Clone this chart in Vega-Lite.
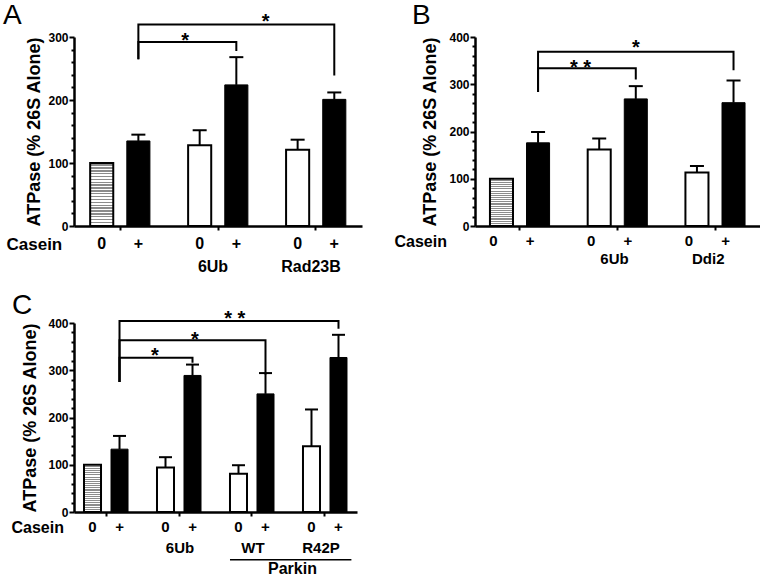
{
  "$schema": "https://vega.github.io/schema/vega-lite/v6.json",
  "padding": {"left": 3, "top": 2, "right": 0, "bottom": 0},
  "config": {
    "font": "Liberation Sans",
    "view": {"stroke": null},
    "axis": {"grid": false, "domainColor": "black", "tickColor": "black", "labelColor": "black", "titleColor": "black", "domainWidth": 2.5, "tickWidth": 2, "labelFontWeight": "bold", "titleFontWeight": "bold", "labelOverlap": false, "labelFlush": false, "labelFont": "Liberation Sans", "titleFont": "Liberation Sans"},
    "text": {"font": "Liberation Sans", "fontWeight": "bold", "color": "black"}
  },
  "datasets": {
    "A_bars": [
      {"group": "ctrl", "casein": "0", "kind": "hatched", "value": 100, "upper": null},
      {"group": "ctrl", "casein": "+", "kind": "black", "value": 135, "upper": 145},
      {"group": "6Ub", "casein": "0", "kind": "white", "value": 128, "upper": 152},
      {"group": "6Ub", "casein": "+", "kind": "black", "value": 224, "upper": 268},
      {"group": "Rad23B", "casein": "0", "kind": "white", "value": 121, "upper": 137},
      {"group": "Rad23B", "casein": "+", "kind": "black", "value": 201, "upper": 212}
    ],
    "A_br": [
      {"bracket": "a1", "group": "ctrl", "casein": "+", "y": 264.6, "seq": 1},
      {"bracket": "a1", "group": "ctrl", "casein": "+", "y": 292, "seq": 2},
      {"bracket": "a1", "group": "6Ub", "casein": "+", "y": 292, "seq": 3},
      {"bracket": "a1", "group": "6Ub", "casein": "+", "y": 277.8, "seq": 4},
      {"bracket": "a2", "group": "ctrl", "casein": "+", "y": 264.6, "seq": 1},
      {"bracket": "a2", "group": "ctrl", "casein": "+", "y": 320, "seq": 2},
      {"bracket": "a2", "group": "Rad23B", "casein": "+", "y": 320, "seq": 3},
      {"bracket": "a2", "group": "Rad23B", "casein": "+", "y": 239, "seq": 4}
    ],
    "B_bars": [
      {"group": "ctrl", "casein": "0", "kind": "hatched", "value": 100, "upper": null},
      {"group": "ctrl", "casein": "+", "kind": "black", "value": 176, "upper": 199},
      {"group": "6Ub", "casein": "0", "kind": "white", "value": 162, "upper": 185},
      {"group": "6Ub", "casein": "+", "kind": "black", "value": 269, "upper": 296},
      {"group": "Ddi2", "casein": "0", "kind": "white", "value": 113, "upper": 127},
      {"group": "Ddi2", "casein": "+", "kind": "black", "value": 261, "upper": 308}
    ],
    "B_br": [
      {"bracket": "b1", "group": "ctrl", "casein": "+", "y": 283.6, "seq": 1},
      {"bracket": "b1", "group": "ctrl", "casein": "+", "y": 333.7, "seq": 2},
      {"bracket": "b1", "group": "6Ub", "casein": "+", "y": 333.7, "seq": 3},
      {"bracket": "b1", "group": "6Ub", "casein": "+", "y": 310, "seq": 4},
      {"bracket": "b2", "group": "ctrl", "casein": "+", "y": 283.6, "seq": 1},
      {"bracket": "b2", "group": "ctrl", "casein": "+", "y": 369, "seq": 2},
      {"bracket": "b2", "group": "Ddi2", "casein": "+", "y": 369, "seq": 3},
      {"bracket": "b2", "group": "Ddi2", "casein": "+", "y": 329.5, "seq": 4}
    ],
    "C_bars": [
      {"group": "ctrl", "casein": "0", "kind": "hatched", "value": 100, "upper": null},
      {"group": "ctrl", "casein": "+", "kind": "black", "value": 133, "upper": 161},
      {"group": "6Ub", "casein": "0", "kind": "white", "value": 94, "upper": 116},
      {"group": "6Ub", "casein": "+", "kind": "black", "value": 289, "upper": 312},
      {"group": "WT", "casein": "0", "kind": "white", "value": 81, "upper": 99},
      {"group": "WT", "casein": "+", "kind": "black", "value": 250, "upper": 294},
      {"group": "R42P", "casein": "0", "kind": "white", "value": 139, "upper": 217},
      {"group": "R42P", "casein": "+", "kind": "black", "value": 327, "upper": 375}
    ],
    "C_br": [
      {"bracket": "c1", "group": "ctrl", "casein": "+", "y": 275, "seq": 1},
      {"bracket": "c1", "group": "ctrl", "casein": "+", "y": 326.6, "seq": 2},
      {"bracket": "c1", "group": "6Ub", "casein": "+", "y": 326.6, "seq": 3},
      {"bracket": "c1", "group": "6Ub", "casein": "+", "y": 316, "seq": 4},
      {"bracket": "c2", "group": "ctrl", "casein": "+", "y": 275, "seq": 1},
      {"bracket": "c2", "group": "ctrl", "casein": "+", "y": 363.3, "seq": 2},
      {"bracket": "c2", "group": "WT", "casein": "+", "y": 363.3, "seq": 3},
      {"bracket": "c2", "group": "WT", "casein": "+", "y": 291, "seq": 4},
      {"bracket": "c3", "group": "ctrl", "casein": "+", "y": 275, "seq": 1},
      {"bracket": "c3", "group": "ctrl", "casein": "+", "y": 404, "seq": 2},
      {"bracket": "c3", "group": "R42P", "casein": "+", "y": 404, "seq": 3},
      {"bracket": "c3", "group": "R42P", "casein": "+", "y": 388, "seq": 4}
    ]
  },
  "columns": 1,
  "align": "none",
  "spacing": 17,
  "resolve": {"scale": {"x": "independent", "xOffset": "independent", "y": "independent"}},
  "concat": [
    {
      "spacing": 32,
      "resolve": {"scale": {"x": "independent", "xOffset": "independent", "y": "independent"}},
      "hconcat": [
        {
          "width": 288, "height": 189,
          "resolve": {"axis": {"y": "independent"}},
          "layer": [
            {"layer": [
            {"data": {"name": "A_bars"}, "transform": [{"filter": "datum.kind === 'black'"}],
             "mark": {"type": "bar", "fill": "black", "stroke": "black", "strokeWidth": 1},
             "encoding": {
               "x": {"field": "group", "type": "nominal", "scale": {"domain": ["ctrl", "6Ub", "Rad23B"], "paddingInner": 0.39, "paddingOuter": 0.165},
                 "axis": {"title": "Casein", "titleX": -68, "titleY": 18, "titleAlign": "left", "titleAnchor": "start", "titleBaseline": "middle", "titleFontSize": 17, "labelExpr": "datum.value === 'ctrl' ? '' : datum.label", "labelAngle": 0, "labelFontSize": 16, "labelPadding": 36, "labelBaseline": "middle", "labelOffset": -5, "tickSize": 4, "labelOverlap": false}},
               "xOffset": {"field": "casein", "type": "nominal", "scale": {"domain": ["0", "+"], "paddingInner": 0.37, "paddingOuter": 0}},
               "y": {"field": "value", "type": "quantitative", "scale": {"domain": [0, 300], "nice": false},
                 "axis": {"orient": "left", "title": "ATPase (% 26S Alone)", "titleFontSize": 18, "titlePadding": 4, "values": [0, 100, 200, 300], "labelFontSize": 12, "labelPadding": 1, "tickSize": 5}}
             }},
            {"data": {"name": "A_bars"}, "transform": [{"filter": "datum.kind === 'white'"}],
             "mark": {"type": "bar", "fill": "white", "stroke": "black", "strokeWidth": 2},
             "encoding": {"x": {"field": "group", "type": "nominal"}, "xOffset": {"field": "casein", "type": "nominal"}, "y": {"field": "value", "type": "quantitative"}}},
            {"data": {"name": "A_bars"}, "transform": [{"filter": "datum.kind === 'hatched'"}],
             "mark": {"type": "bar", "stroke": "black", "strokeWidth": 2, "fill": {"gradient": "linear", "x1": 0, "y1": 0, "x2": 0, "y2": 1, "stops": [
        {"offset": 0, "color": "white"}, {"offset": 0.0227, "color": "white"}, {"offset": 0.0227, "color": "#8c8c8c"}, {"offset": 0.0455, "color": "#8c8c8c"},
        {"offset": 0.0455, "color": "white"}, {"offset": 0.0682, "color": "white"}, {"offset": 0.0682, "color": "#8c8c8c"}, {"offset": 0.0909, "color": "#8c8c8c"},
        {"offset": 0.0909, "color": "white"}, {"offset": 0.1136, "color": "white"}, {"offset": 0.1136, "color": "#8c8c8c"}, {"offset": 0.1364, "color": "#8c8c8c"},
        {"offset": 0.1364, "color": "white"}, {"offset": 0.1591, "color": "white"}, {"offset": 0.1591, "color": "#8c8c8c"}, {"offset": 0.1818, "color": "#8c8c8c"},
        {"offset": 0.1818, "color": "white"}, {"offset": 0.2045, "color": "white"}, {"offset": 0.2045, "color": "#8c8c8c"}, {"offset": 0.2273, "color": "#8c8c8c"},
        {"offset": 0.2273, "color": "white"}, {"offset": 0.25, "color": "white"}, {"offset": 0.25, "color": "#8c8c8c"}, {"offset": 0.2727, "color": "#8c8c8c"},
        {"offset": 0.2727, "color": "white"}, {"offset": 0.2955, "color": "white"}, {"offset": 0.2955, "color": "#8c8c8c"}, {"offset": 0.3182, "color": "#8c8c8c"},
        {"offset": 0.3182, "color": "white"}, {"offset": 0.3409, "color": "white"}, {"offset": 0.3409, "color": "#8c8c8c"}, {"offset": 0.3636, "color": "#8c8c8c"},
        {"offset": 0.3636, "color": "white"}, {"offset": 0.3864, "color": "white"}, {"offset": 0.3864, "color": "#8c8c8c"}, {"offset": 0.4091, "color": "#8c8c8c"},
        {"offset": 0.4091, "color": "white"}, {"offset": 0.4318, "color": "white"}, {"offset": 0.4318, "color": "#8c8c8c"}, {"offset": 0.4545, "color": "#8c8c8c"},
        {"offset": 0.4545, "color": "white"}, {"offset": 0.4773, "color": "white"}, {"offset": 0.4773, "color": "#8c8c8c"}, {"offset": 0.5, "color": "#8c8c8c"},
        {"offset": 0.5, "color": "white"}, {"offset": 0.5227, "color": "white"}, {"offset": 0.5227, "color": "#8c8c8c"}, {"offset": 0.5455, "color": "#8c8c8c"},
        {"offset": 0.5455, "color": "white"}, {"offset": 0.5682, "color": "white"}, {"offset": 0.5682, "color": "#8c8c8c"}, {"offset": 0.5909, "color": "#8c8c8c"},
        {"offset": 0.5909, "color": "white"}, {"offset": 0.6136, "color": "white"}, {"offset": 0.6136, "color": "#8c8c8c"}, {"offset": 0.6364, "color": "#8c8c8c"},
        {"offset": 0.6364, "color": "white"}, {"offset": 0.6591, "color": "white"}, {"offset": 0.6591, "color": "#8c8c8c"}, {"offset": 0.6818, "color": "#8c8c8c"},
        {"offset": 0.6818, "color": "white"}, {"offset": 0.7045, "color": "white"}, {"offset": 0.7045, "color": "#8c8c8c"}, {"offset": 0.7273, "color": "#8c8c8c"},
        {"offset": 0.7273, "color": "white"}, {"offset": 0.75, "color": "white"}, {"offset": 0.75, "color": "#8c8c8c"}, {"offset": 0.7727, "color": "#8c8c8c"},
        {"offset": 0.7727, "color": "white"}, {"offset": 0.7955, "color": "white"}, {"offset": 0.7955, "color": "#8c8c8c"}, {"offset": 0.8182, "color": "#8c8c8c"},
        {"offset": 0.8182, "color": "white"}, {"offset": 0.8409, "color": "white"}, {"offset": 0.8409, "color": "#8c8c8c"}, {"offset": 0.8636, "color": "#8c8c8c"},
        {"offset": 0.8636, "color": "white"}, {"offset": 0.8864, "color": "white"}, {"offset": 0.8864, "color": "#8c8c8c"}, {"offset": 0.9091, "color": "#8c8c8c"},
        {"offset": 0.9091, "color": "white"}, {"offset": 0.9318, "color": "white"}, {"offset": 0.9318, "color": "#8c8c8c"}, {"offset": 0.9545, "color": "#8c8c8c"},
        {"offset": 0.9545, "color": "white"}, {"offset": 0.9773, "color": "white"}, {"offset": 0.9773, "color": "#8c8c8c"}, {"offset": 1, "color": "#8c8c8c"}
      ]}},
             "encoding": {"x": {"field": "group", "type": "nominal"}, "xOffset": {"field": "casein", "type": "nominal"}, "y": {"field": "value", "type": "quantitative"}}},
            {"data": {"name": "A_bars"}, "transform": [{"filter": "isValid(datum.upper)"}],
             "mark": {"type": "rule", "color": "black", "strokeWidth": 2},
             "encoding": {"x": {"field": "group", "type": "nominal"}, "xOffset": {"field": "casein", "type": "nominal"}, "y": {"field": "value", "type": "quantitative"}, "y2": {"field": "upper"}}},
            {"data": {"name": "A_bars"}, "transform": [{"filter": "isValid(datum.upper)"}],
             "mark": {"type": "tick", "orient": "horizontal", "color": "black", "size": 14, "thickness": 2, "opacity": 1},
             "encoding": {"x": {"field": "group", "type": "nominal"}, "xOffset": {"field": "casein", "type": "nominal"}, "y": {"field": "upper", "type": "quantitative"}}},
            {"data": {"name": "A_br"},
             "mark": {"type": "line", "color": "black", "strokeWidth": 2, "strokeJoin": "miter"},
             "encoding": {"x": {"field": "group", "type": "nominal"}, "xOffset": {"field": "casein", "type": "nominal"}, "y": {"field": "y", "type": "quantitative"}, "order": {"field": "seq", "type": "quantitative"}, "detail": {"field": "bracket", "type": "nominal"}}},
            {"data": {"values": [{"group": "6Ub", "label": "*", "y": 284.4}]},
             "mark": {"type": "text", "fontSize": 20, "baseline": "alphabetic"},
             "encoding": {"x": {"field": "group", "type": "nominal", "bandPosition": -0.05}, "y": {"field": "y", "type": "quantitative"}, "text": {"field": "label"}}},
            {"data": {"values": [{"group": "Rad23B", "label": "*", "y": 313.5}]},
             "mark": {"type": "text", "fontSize": 20, "baseline": "alphabetic"},
             "encoding": {"x": {"field": "group", "type": "nominal", "bandPosition": -0.34}, "y": {"field": "y", "type": "quantitative"}, "text": {"field": "label"}}},
            {"data": {"values": [{"group": "ctrl", "label": "A", "y": 320.2}]},
             "mark": {"type": "text", "fontSize": 28, "fontWeight": "normal", "align": "left", "baseline": "alphabetic"},
             "encoding": {"x": {"field": "group", "type": "nominal", "bandPosition": -1.458}, "y": {"field": "y", "type": "quantitative"}, "text": {"field": "label"}}},
            {"data": {"name": "A_bars"},
             "mark": {"type": "text", "fontSize": 16, "baseline": "middle"},
             "encoding": {"x": {"field": "group", "type": "nominal"}, "xOffset": {"field": "casein", "type": "nominal"}, "y": {"datum": -29}, "text": {"field": "casein"}}}
            ]},
            {"data": {"name": "A_bars"}, "mark": {"type": "rule", "opacity": 0},
             "encoding": {"y": {"field": "value", "type": "quantitative", "axis": {"orient": "left", "values": [20,40,60,80,120,140,160,180,220,240,260,280], "labels": false, "domain": false, "tickSize": 3, "title": null}}}}
          ]
        },
        {
          "width": 285, "height": 189,
          "resolve": {"axis": {"y": "independent"}},
          "layer": [
            {"layer": [
            {"data": {"name": "B_bars"}, "transform": [{"filter": "datum.kind === 'black'"}],
             "mark": {"type": "bar", "fill": "black", "stroke": "black", "strokeWidth": 1},
             "encoding": {
               "x": {"field": "group", "type": "nominal", "scale": {"domain": ["ctrl", "6Ub", "Ddi2"], "paddingInner": 0.39, "paddingOuter": 0.153},
                 "axis": {"title": "Casein", "titleX": -81, "titleY": 15, "titleAlign": "left", "titleAnchor": "start", "titleBaseline": "middle", "titleFontSize": 16, "labelExpr": "datum.value === 'ctrl' ? '' : datum.label", "labelAngle": 0, "labelFontSize": 15, "labelPadding": 28, "labelBaseline": "middle", "labelOffset": {"condition": {"test": "datum.value === 'Ddi2'", "value": -7}, "value": -3}, "tickSize": 4, "labelOverlap": false}},
               "xOffset": {"field": "casein", "type": "nominal", "scale": {"domain": ["0", "+"], "paddingInner": 0.37, "paddingOuter": 0}},
               "y": {"field": "value", "type": "quantitative", "scale": {"domain": [0, 400], "nice": false},
                 "axis": {"orient": "left", "title": "ATPase (% 26S Alone)", "titleFontSize": 18, "titlePadding": 9, "values": [0, 100, 200, 300, 400], "labelFontSize": 12, "labelPadding": 1, "tickSize": 5}}
             }},
            {"data": {"name": "B_bars"}, "transform": [{"filter": "datum.kind === 'white'"}],
             "mark": {"type": "bar", "fill": "white", "stroke": "black", "strokeWidth": 2},
             "encoding": {"x": {"field": "group", "type": "nominal"}, "xOffset": {"field": "casein", "type": "nominal"}, "y": {"field": "value", "type": "quantitative"}}},
            {"data": {"name": "B_bars"}, "transform": [{"filter": "datum.kind === 'hatched'"}],
             "mark": {"type": "bar", "stroke": "black", "strokeWidth": 2, "fill": {"gradient": "linear", "x1": 0, "y1": 0, "x2": 0, "y2": 1, "stops": [
        {"offset": 0, "color": "white"}, {"offset": 0.0227, "color": "white"}, {"offset": 0.0227, "color": "#8c8c8c"}, {"offset": 0.0455, "color": "#8c8c8c"},
        {"offset": 0.0455, "color": "white"}, {"offset": 0.0682, "color": "white"}, {"offset": 0.0682, "color": "#8c8c8c"}, {"offset": 0.0909, "color": "#8c8c8c"},
        {"offset": 0.0909, "color": "white"}, {"offset": 0.1136, "color": "white"}, {"offset": 0.1136, "color": "#8c8c8c"}, {"offset": 0.1364, "color": "#8c8c8c"},
        {"offset": 0.1364, "color": "white"}, {"offset": 0.1591, "color": "white"}, {"offset": 0.1591, "color": "#8c8c8c"}, {"offset": 0.1818, "color": "#8c8c8c"},
        {"offset": 0.1818, "color": "white"}, {"offset": 0.2045, "color": "white"}, {"offset": 0.2045, "color": "#8c8c8c"}, {"offset": 0.2273, "color": "#8c8c8c"},
        {"offset": 0.2273, "color": "white"}, {"offset": 0.25, "color": "white"}, {"offset": 0.25, "color": "#8c8c8c"}, {"offset": 0.2727, "color": "#8c8c8c"},
        {"offset": 0.2727, "color": "white"}, {"offset": 0.2955, "color": "white"}, {"offset": 0.2955, "color": "#8c8c8c"}, {"offset": 0.3182, "color": "#8c8c8c"},
        {"offset": 0.3182, "color": "white"}, {"offset": 0.3409, "color": "white"}, {"offset": 0.3409, "color": "#8c8c8c"}, {"offset": 0.3636, "color": "#8c8c8c"},
        {"offset": 0.3636, "color": "white"}, {"offset": 0.3864, "color": "white"}, {"offset": 0.3864, "color": "#8c8c8c"}, {"offset": 0.4091, "color": "#8c8c8c"},
        {"offset": 0.4091, "color": "white"}, {"offset": 0.4318, "color": "white"}, {"offset": 0.4318, "color": "#8c8c8c"}, {"offset": 0.4545, "color": "#8c8c8c"},
        {"offset": 0.4545, "color": "white"}, {"offset": 0.4773, "color": "white"}, {"offset": 0.4773, "color": "#8c8c8c"}, {"offset": 0.5, "color": "#8c8c8c"},
        {"offset": 0.5, "color": "white"}, {"offset": 0.5227, "color": "white"}, {"offset": 0.5227, "color": "#8c8c8c"}, {"offset": 0.5455, "color": "#8c8c8c"},
        {"offset": 0.5455, "color": "white"}, {"offset": 0.5682, "color": "white"}, {"offset": 0.5682, "color": "#8c8c8c"}, {"offset": 0.5909, "color": "#8c8c8c"},
        {"offset": 0.5909, "color": "white"}, {"offset": 0.6136, "color": "white"}, {"offset": 0.6136, "color": "#8c8c8c"}, {"offset": 0.6364, "color": "#8c8c8c"},
        {"offset": 0.6364, "color": "white"}, {"offset": 0.6591, "color": "white"}, {"offset": 0.6591, "color": "#8c8c8c"}, {"offset": 0.6818, "color": "#8c8c8c"},
        {"offset": 0.6818, "color": "white"}, {"offset": 0.7045, "color": "white"}, {"offset": 0.7045, "color": "#8c8c8c"}, {"offset": 0.7273, "color": "#8c8c8c"},
        {"offset": 0.7273, "color": "white"}, {"offset": 0.75, "color": "white"}, {"offset": 0.75, "color": "#8c8c8c"}, {"offset": 0.7727, "color": "#8c8c8c"},
        {"offset": 0.7727, "color": "white"}, {"offset": 0.7955, "color": "white"}, {"offset": 0.7955, "color": "#8c8c8c"}, {"offset": 0.8182, "color": "#8c8c8c"},
        {"offset": 0.8182, "color": "white"}, {"offset": 0.8409, "color": "white"}, {"offset": 0.8409, "color": "#8c8c8c"}, {"offset": 0.8636, "color": "#8c8c8c"},
        {"offset": 0.8636, "color": "white"}, {"offset": 0.8864, "color": "white"}, {"offset": 0.8864, "color": "#8c8c8c"}, {"offset": 0.9091, "color": "#8c8c8c"},
        {"offset": 0.9091, "color": "white"}, {"offset": 0.9318, "color": "white"}, {"offset": 0.9318, "color": "#8c8c8c"}, {"offset": 0.9545, "color": "#8c8c8c"},
        {"offset": 0.9545, "color": "white"}, {"offset": 0.9773, "color": "white"}, {"offset": 0.9773, "color": "#8c8c8c"}, {"offset": 1, "color": "#8c8c8c"}
      ]}},
             "encoding": {"x": {"field": "group", "type": "nominal"}, "xOffset": {"field": "casein", "type": "nominal"}, "y": {"field": "value", "type": "quantitative"}}},
            {"data": {"name": "B_bars"}, "transform": [{"filter": "isValid(datum.upper)"}],
             "mark": {"type": "rule", "color": "black", "strokeWidth": 2},
             "encoding": {"x": {"field": "group", "type": "nominal"}, "xOffset": {"field": "casein", "type": "nominal"}, "y": {"field": "value", "type": "quantitative"}, "y2": {"field": "upper"}}},
            {"data": {"name": "B_bars"}, "transform": [{"filter": "isValid(datum.upper)"}],
             "mark": {"type": "tick", "orient": "horizontal", "color": "black", "size": 14, "thickness": 2, "opacity": 1},
             "encoding": {"x": {"field": "group", "type": "nominal"}, "xOffset": {"field": "casein", "type": "nominal"}, "y": {"field": "upper", "type": "quantitative"}}},
            {"data": {"name": "B_br"},
             "mark": {"type": "line", "color": "black", "strokeWidth": 2, "strokeJoin": "miter"},
             "encoding": {"x": {"field": "group", "type": "nominal"}, "xOffset": {"field": "casein", "type": "nominal"}, "y": {"field": "y", "type": "quantitative"}, "order": {"field": "seq", "type": "quantitative"}, "detail": {"field": "bracket", "type": "nominal"}}},
            {"data": {"values": [{"group": "6Ub", "label": "* *", "y": 321}]},
             "mark": {"type": "text", "fontSize": 20, "baseline": "alphabetic"},
             "encoding": {"x": {"field": "group", "type": "nominal", "bandPosition": -0.12}, "y": {"field": "y", "type": "quantitative"}, "text": {"field": "label"}}},
            {"data": {"values": [{"group": "6Ub", "label": "*", "y": 363.4}]},
             "mark": {"type": "text", "fontSize": 20, "baseline": "alphabetic"},
             "encoding": {"x": {"field": "group", "type": "nominal", "bandPosition": 0.81}, "y": {"field": "y", "type": "quantitative"}, "text": {"field": "label"}}},
            {"data": {"values": [{"group": "ctrl", "label": "B", "y": 426.9}]},
             "mark": {"type": "text", "fontSize": 28, "fontWeight": "normal", "align": "left", "baseline": "alphabetic"},
             "encoding": {"x": {"field": "group", "type": "nominal", "bandPosition": -1.308}, "y": {"field": "y", "type": "quantitative"}, "text": {"field": "label"}}},
            {"data": {"name": "B_bars"},
             "mark": {"type": "text", "fontSize": 15, "baseline": "middle", "dx": -8},
             "encoding": {"x": {"field": "group", "type": "nominal"}, "xOffset": {"field": "casein", "type": "nominal"}, "y": {"datum": -31.7}, "text": {"field": "casein"}}}
            ]},
            {"data": {"name": "B_bars"}, "mark": {"type": "rule", "opacity": 0},
             "encoding": {"y": {"field": "value", "type": "quantitative", "axis": {"orient": "left", "values": [20,40,60,80,120,140,160,180,220,240,260,280,320,340,360,380], "labels": false, "domain": false, "tickSize": 3, "title": null}}}}
          ]
        }
      ]
    },
    {
      "width": 283, "height": 189,
      "resolve": {"axis": {"y": "independent"}},
      "layer": [
        {"layer": [
        {"data": {"name": "C_bars"}, "transform": [{"filter": "datum.kind === 'black'"}],
         "mark": {"type": "bar", "fill": "black", "stroke": "black", "strokeWidth": 1},
         "encoding": {
           "x": {"field": "group", "type": "nominal", "scale": {"domain": ["ctrl", "6Ub", "WT", "R42P"], "paddingInner": 0.397, "paddingOuter": 0.137},
             "axis": {"title": "Casein", "titleX": -63, "titleY": 15, "titleAlign": "left", "titleAnchor": "start", "titleBaseline": "middle", "titleFontSize": 16, "labelExpr": "datum.value === 'ctrl' ? '' : datum.label", "labelAngle": 0, "labelFontSize": 15, "labelPadding": 31, "labelBaseline": "middle", "labelOffset": {"condition": {"test": "datum.value === 'R42P'", "value": -4}, "value": 1}, "tickSize": 4, "labelOverlap": false}},
           "xOffset": {"field": "casein", "type": "nominal", "scale": {"domain": ["0", "+"], "paddingInner": 0.37, "paddingOuter": 0}},
           "y": {"field": "value", "type": "quantitative", "scale": {"domain": [0, 400], "nice": false},
             "axis": {"orient": "left", "title": "ATPase (% 26S Alone)", "titleFontSize": 18, "titlePadding": 8, "values": [0, 100, 200, 300, 400], "labelFontSize": 12, "labelPadding": 1, "tickSize": 5}}
         }},
        {"data": {"name": "C_bars"}, "transform": [{"filter": "datum.kind === 'white'"}],
         "mark": {"type": "bar", "fill": "white", "stroke": "black", "strokeWidth": 2},
         "encoding": {"x": {"field": "group", "type": "nominal"}, "xOffset": {"field": "casein", "type": "nominal"}, "y": {"field": "value", "type": "quantitative"}}},
        {"data": {"name": "C_bars"}, "transform": [{"filter": "datum.kind === 'hatched'"}],
         "mark": {"type": "bar", "stroke": "black", "strokeWidth": 2, "fill": {"gradient": "linear", "x1": 0, "y1": 0, "x2": 0, "y2": 1, "stops": [
        {"offset": 0, "color": "white"}, {"offset": 0.0227, "color": "white"}, {"offset": 0.0227, "color": "#8c8c8c"}, {"offset": 0.0455, "color": "#8c8c8c"},
        {"offset": 0.0455, "color": "white"}, {"offset": 0.0682, "color": "white"}, {"offset": 0.0682, "color": "#8c8c8c"}, {"offset": 0.0909, "color": "#8c8c8c"},
        {"offset": 0.0909, "color": "white"}, {"offset": 0.1136, "color": "white"}, {"offset": 0.1136, "color": "#8c8c8c"}, {"offset": 0.1364, "color": "#8c8c8c"},
        {"offset": 0.1364, "color": "white"}, {"offset": 0.1591, "color": "white"}, {"offset": 0.1591, "color": "#8c8c8c"}, {"offset": 0.1818, "color": "#8c8c8c"},
        {"offset": 0.1818, "color": "white"}, {"offset": 0.2045, "color": "white"}, {"offset": 0.2045, "color": "#8c8c8c"}, {"offset": 0.2273, "color": "#8c8c8c"},
        {"offset": 0.2273, "color": "white"}, {"offset": 0.25, "color": "white"}, {"offset": 0.25, "color": "#8c8c8c"}, {"offset": 0.2727, "color": "#8c8c8c"},
        {"offset": 0.2727, "color": "white"}, {"offset": 0.2955, "color": "white"}, {"offset": 0.2955, "color": "#8c8c8c"}, {"offset": 0.3182, "color": "#8c8c8c"},
        {"offset": 0.3182, "color": "white"}, {"offset": 0.3409, "color": "white"}, {"offset": 0.3409, "color": "#8c8c8c"}, {"offset": 0.3636, "color": "#8c8c8c"},
        {"offset": 0.3636, "color": "white"}, {"offset": 0.3864, "color": "white"}, {"offset": 0.3864, "color": "#8c8c8c"}, {"offset": 0.4091, "color": "#8c8c8c"},
        {"offset": 0.4091, "color": "white"}, {"offset": 0.4318, "color": "white"}, {"offset": 0.4318, "color": "#8c8c8c"}, {"offset": 0.4545, "color": "#8c8c8c"},
        {"offset": 0.4545, "color": "white"}, {"offset": 0.4773, "color": "white"}, {"offset": 0.4773, "color": "#8c8c8c"}, {"offset": 0.5, "color": "#8c8c8c"},
        {"offset": 0.5, "color": "white"}, {"offset": 0.5227, "color": "white"}, {"offset": 0.5227, "color": "#8c8c8c"}, {"offset": 0.5455, "color": "#8c8c8c"},
        {"offset": 0.5455, "color": "white"}, {"offset": 0.5682, "color": "white"}, {"offset": 0.5682, "color": "#8c8c8c"}, {"offset": 0.5909, "color": "#8c8c8c"},
        {"offset": 0.5909, "color": "white"}, {"offset": 0.6136, "color": "white"}, {"offset": 0.6136, "color": "#8c8c8c"}, {"offset": 0.6364, "color": "#8c8c8c"},
        {"offset": 0.6364, "color": "white"}, {"offset": 0.6591, "color": "white"}, {"offset": 0.6591, "color": "#8c8c8c"}, {"offset": 0.6818, "color": "#8c8c8c"},
        {"offset": 0.6818, "color": "white"}, {"offset": 0.7045, "color": "white"}, {"offset": 0.7045, "color": "#8c8c8c"}, {"offset": 0.7273, "color": "#8c8c8c"},
        {"offset": 0.7273, "color": "white"}, {"offset": 0.75, "color": "white"}, {"offset": 0.75, "color": "#8c8c8c"}, {"offset": 0.7727, "color": "#8c8c8c"},
        {"offset": 0.7727, "color": "white"}, {"offset": 0.7955, "color": "white"}, {"offset": 0.7955, "color": "#8c8c8c"}, {"offset": 0.8182, "color": "#8c8c8c"},
        {"offset": 0.8182, "color": "white"}, {"offset": 0.8409, "color": "white"}, {"offset": 0.8409, "color": "#8c8c8c"}, {"offset": 0.8636, "color": "#8c8c8c"},
        {"offset": 0.8636, "color": "white"}, {"offset": 0.8864, "color": "white"}, {"offset": 0.8864, "color": "#8c8c8c"}, {"offset": 0.9091, "color": "#8c8c8c"},
        {"offset": 0.9091, "color": "white"}, {"offset": 0.9318, "color": "white"}, {"offset": 0.9318, "color": "#8c8c8c"}, {"offset": 0.9545, "color": "#8c8c8c"},
        {"offset": 0.9545, "color": "white"}, {"offset": 0.9773, "color": "white"}, {"offset": 0.9773, "color": "#8c8c8c"}, {"offset": 1, "color": "#8c8c8c"}
      ]}},
         "encoding": {"x": {"field": "group", "type": "nominal"}, "xOffset": {"field": "casein", "type": "nominal"}, "y": {"field": "value", "type": "quantitative"}}},
        {"data": {"name": "C_bars"}, "transform": [{"filter": "isValid(datum.upper)"}],
         "mark": {"type": "rule", "color": "black", "strokeWidth": 2},
         "encoding": {"x": {"field": "group", "type": "nominal"}, "xOffset": {"field": "casein", "type": "nominal"}, "y": {"field": "value", "type": "quantitative"}, "y2": {"field": "upper"}}},
        {"data": {"name": "C_bars"}, "transform": [{"filter": "isValid(datum.upper)"}],
         "mark": {"type": "tick", "orient": "horizontal", "color": "black", "size": 13, "thickness": 2, "opacity": 1},
         "encoding": {"x": {"field": "group", "type": "nominal"}, "xOffset": {"field": "casein", "type": "nominal"}, "y": {"field": "upper", "type": "quantitative"}}},
        {"data": {"name": "C_br"},
         "mark": {"type": "line", "color": "black", "strokeWidth": 2, "strokeJoin": "miter"},
         "encoding": {"x": {"field": "group", "type": "nominal"}, "xOffset": {"field": "casein", "type": "nominal"}, "y": {"field": "y", "type": "quantitative"}, "order": {"field": "seq", "type": "quantitative"}, "detail": {"field": "bracket", "type": "nominal"}}},
        {"data": {"values": [{"group": "6Ub", "label": "*", "y": 317.5}]},
         "mark": {"type": "text", "fontSize": 20, "baseline": "alphabetic"},
         "encoding": {"x": {"field": "group", "type": "nominal", "bandPosition": -0.05}, "y": {"field": "y", "type": "quantitative"}, "text": {"field": "label"}}},
        {"data": {"values": [{"group": "6Ub", "label": "*", "y": 351.5}]},
         "mark": {"type": "text", "fontSize": 20, "baseline": "alphabetic"},
         "encoding": {"x": {"field": "group", "type": "nominal", "bandPosition": 0.86}, "y": {"field": "y", "type": "quantitative"}, "text": {"field": "label"}}},
        {"data": {"values": [{"group": "WT", "label": "* *", "y": 396.8}]},
         "mark": {"type": "text", "fontSize": 20, "baseline": "alphabetic"},
         "encoding": {"x": {"field": "group", "type": "nominal", "bandPosition": 0.11}, "y": {"field": "y", "type": "quantitative"}, "text": {"field": "label"}}},
        {"data": {"values": [{"group": "ctrl", "label": "C", "y": 419.7}]},
         "mark": {"type": "text", "fontSize": 28, "fontWeight": "normal", "align": "left", "baseline": "alphabetic"},
         "encoding": {"x": {"field": "group", "type": "nominal", "bandPosition": -1.636}, "y": {"field": "y", "type": "quantitative"}, "text": {"field": "label"}}},
        {"data": {"name": "C_bars"},
         "mark": {"type": "text", "fontSize": 15, "baseline": "middle"},
         "encoding": {"x": {"field": "group", "type": "nominal"}, "xOffset": {"field": "casein", "type": "nominal"}, "y": {"datum": -31.7}, "text": {"field": "casein"}}},
        {"data": {"values": [{"group": "WT", "g2": "R42P"}]},
         "mark": {"type": "rule", "color": "black", "strokeWidth": 1.5},
         "encoding": {"x": {"field": "group", "type": "nominal", "bandPosition": 0}, "x2": {"field": "g2", "bandPosition": 1.1}, "y": {"datum": -101}}},
        {"data": {"values": [{"group": "WT", "label": "Parkin"}]},
         "mark": {"type": "text", "fontSize": 16, "baseline": "middle"},
         "encoding": {"x": {"field": "group", "type": "nominal", "bandPosition": 1.42}, "y": {"datum": -120}, "text": {"field": "label"}}}
        ]},
        {"data": {"name": "C_bars"}, "mark": {"type": "rule", "opacity": 0},
         "encoding": {"y": {"field": "value", "type": "quantitative", "axis": {"orient": "left", "values": [20,40,60,80,120,140,160,180,220,240,260,280,320,340,360,380], "labels": false, "domain": false, "tickSize": 3, "title": null}}}}
      ]
    }
  ]
}
